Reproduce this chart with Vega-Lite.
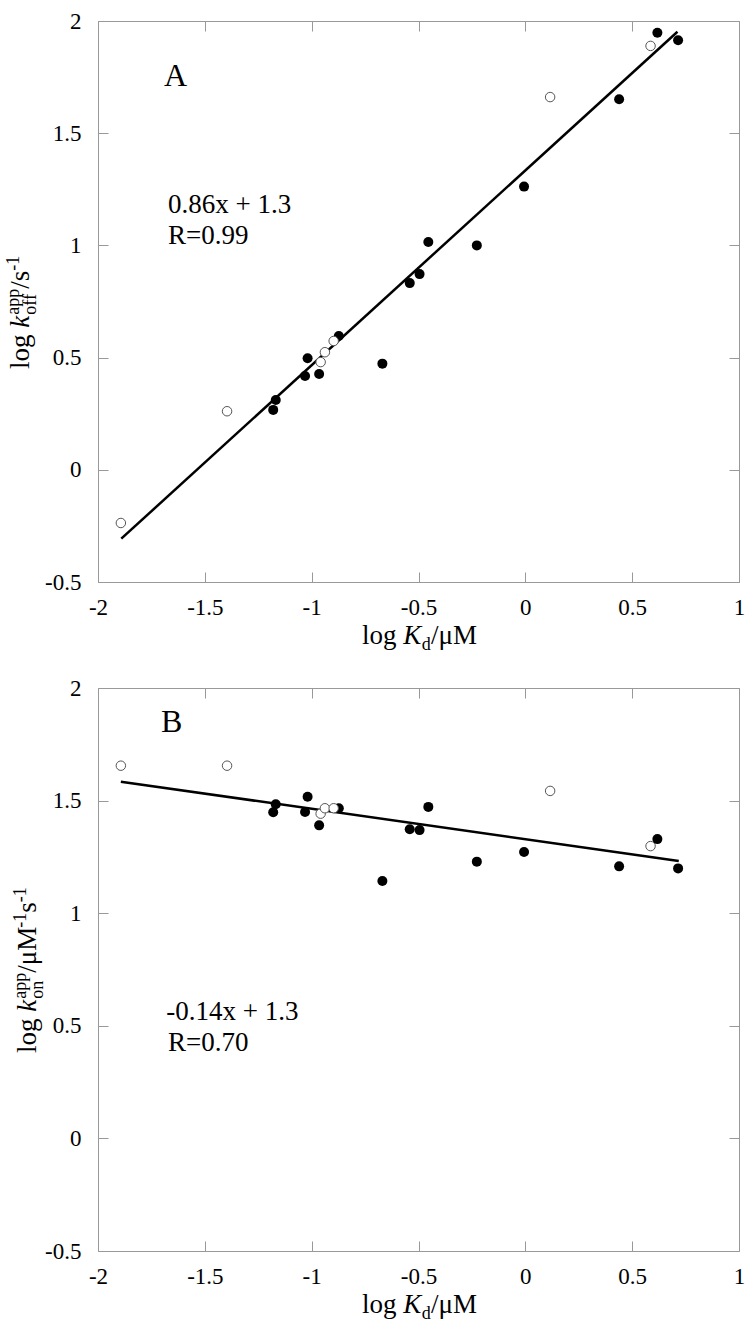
{
  "$schema": "https://vega.github.io/schema/vega-lite/v6.json",
  "background": "white",
  "padding": {"left": 4, "top": 9, "right": 5, "bottom": 0},
  "autosize": {"type": "pad"},
  "config": {
    "font": "Liberation Serif",
    "view": {"stroke": "#999999", "strokeWidth": 1},
    "axis": {"grid": false, "domain": false, "labelFlush": false, "labelOverlap": false, "tickColor": "#999999", "tickWidth": 1, "labelFont": "Liberation Serif", "labelFontSize": 23, "labelColor": "black"}
  },
  "datasets": {
    "pts": [
      {"logKd": -1.893, "logKoff": -0.237, "logKon": 1.655, "marker": "open"},
      {"logKd": -1.396, "logKoff": 0.261, "logKon": 1.655, "marker": "open"},
      {"logKd": -0.958, "logKoff": 0.48, "logKon": 1.442, "marker": "open"},
      {"logKd": -0.938, "logKoff": 0.524, "logKon": 1.466, "marker": "open"},
      {"logKd": -0.897, "logKoff": 0.574, "logKon": 1.466, "marker": "open"},
      {"logKd": 0.116, "logKoff": 1.661, "logKon": 1.543, "marker": "open"},
      {"logKd": 0.586, "logKoff": 1.889, "logKon": 1.298, "marker": "open"},
      {"logKd": -1.18, "logKoff": 0.267, "logKon": 1.448, "marker": "filled"},
      {"logKd": -1.168, "logKoff": 0.311, "logKon": 1.484, "marker": "filled"},
      {"logKd": -1.031, "logKoff": 0.418, "logKon": 1.449, "marker": "filled"},
      {"logKd": -1.019, "logKoff": 0.497, "logKon": 1.517, "marker": "filled"},
      {"logKd": -0.965, "logKoff": 0.427, "logKon": 1.39, "marker": "filled"},
      {"logKd": -0.873, "logKoff": 0.596, "logKon": 1.466, "marker": "filled"},
      {"logKd": -0.669, "logKoff": 0.473, "logKon": 1.143, "marker": "filled"},
      {"logKd": -0.541, "logKoff": 0.832, "logKon": 1.373, "marker": "filled"},
      {"logKd": -0.495, "logKoff": 0.872, "logKon": 1.369, "marker": "filled"},
      {"logKd": -0.454, "logKoff": 1.015, "logKon": 1.472, "marker": "filled"},
      {"logKd": -0.227, "logKoff": 1.0, "logKon": 1.229, "marker": "filled"},
      {"logKd": -0.006, "logKoff": 1.262, "logKon": 1.272, "marker": "filled"},
      {"logKd": 0.439, "logKoff": 1.651, "logKon": 1.208, "marker": "filled"},
      {"logKd": 0.618, "logKoff": 1.948, "logKon": 1.329, "marker": "filled"},
      {"logKd": 0.715, "logKoff": 1.914, "logKon": 1.199, "marker": "filled"}
    ],
    "fitA": [{"logKd": -1.891, "fit": -0.307}, {"logKd": 0.712, "fit": 1.952}],
    "fitB": [{"logKd": -1.893, "fit": 1.584}, {"logKd": 0.718, "fit": 1.232}]
  },
  "concat": [
    {
      "width": 641,
      "height": 561,
      "layer": [
        {"data": {"name": "fitA"}, "mark": {"type": "line", "color": "black", "strokeWidth": 2.5},
         "encoding": {"x": {"field": "logKd", "type": "quantitative", "axis": null, "scale": {"domain": [-2, 1], "nice": false, "zero": false}},
                      "y": {"field": "fit", "type": "quantitative", "axis": null, "scale": {"domain": [-0.5, 2], "nice": false, "zero": false}}}},
        {"data": {"name": "pts"}, "transform": [{"filter": "datum.marker === 'filled'"}],
         "mark": {"type": "circle", "color": "black", "opacity": 1, "size": 100},
         "encoding": {"x": {"field": "logKd", "type": "quantitative", "axis": {"orient": "bottom", "values": [-2, -1.5, -1, -0.5, 0, 0.5, 1], "title": null, "tickSize": -10, "labelPadding": 24, "labelFont": "Liberation Serif", "labelFontSize": 23, "labelColor": "black", "labelExpr": "'' + datum.value"}},
                      "y": {"field": "logKoff", "type": "quantitative", "axis": {"orient": "left", "values": [-0.5, 0, 0.5, 1, 1.5, 2], "title": null, "tickSize": -10, "labelPadding": 27, "labelFont": "Liberation Serif", "labelFontSize": 23, "labelColor": "black", "labelExpr": "'' + datum.value"}}}},
        {"data": {"name": "pts"}, "transform": [{"filter": "datum.marker === 'open'"}],
         "mark": {"type": "point", "shape": "circle", "filled": false, "fill": "white", "fillOpacity": 1, "stroke": "#555555", "strokeWidth": 1, "opacity": 1, "size": 90},
         "encoding": {"x": {"field": "logKd", "type": "quantitative", "axis": {"orient": "top", "values": [-2, -1.5, -1, -0.5, 0, 0.5, 1], "title": null, "labels": false, "tickSize": -10}},
                      "y": {"field": "logKoff", "type": "quantitative", "axis": {"orient": "right", "values": [-0.5, 0, 0.5, 1, 1.5, 2], "title": null, "labels": false, "tickSize": -10}}}},
        {"data": {"values": [{}]}, "mark": {"type": "text", "text": "A", "fontSize": 32, "align": "left", "baseline": "alphabetic", "color": "black"},
         "encoding": {"x": {"datum": -1.691, "type": "quantitative", "axis": null}, "y": {"datum": 1.71, "type": "quantitative", "axis": null}}},
        {"data": {"values": [{}]}, "mark": {"type": "text", "text": "0.86x + 1.3", "fontSize": 27, "align": "left", "baseline": "alphabetic", "color": "black"},
         "encoding": {"x": {"datum": -1.672, "type": "quantitative", "axis": null}, "y": {"datum": 1.146, "type": "quantitative", "axis": null}}},
        {"data": {"values": [{}]}, "mark": {"type": "text", "text": "R=0.99", "fontSize": 27, "align": "left", "baseline": "alphabetic", "color": "black"},
         "encoding": {"x": {"datum": -1.672, "type": "quantitative", "axis": null}, "y": {"datum": 1.006, "type": "quantitative", "axis": null}}},
        {"data": {"values": [{}]}, "mark": {"type": "text", "text": "log ", "fontSize": 27, "align": "left", "baseline": "alphabetic", "dx": -56.6, "dy": 62, "color": "black"},
         "encoding": {"x": {"datum": -0.5, "type": "quantitative", "axis": null}, "y": {"datum": -0.5, "type": "quantitative", "axis": null}}},
        {"data": {"values": [{}]}, "mark": {"type": "text", "text": "K", "fontSize": 27, "fontStyle": "italic", "align": "left", "baseline": "alphabetic", "dx": -15.3, "dy": 62, "color": "black"},
         "encoding": {"x": {"datum": -0.5, "type": "quantitative", "axis": null}, "y": {"datum": -0.5, "type": "quantitative", "axis": null}}},
        {"data": {"values": [{}]}, "mark": {"type": "text", "text": "d", "fontSize": 18, "align": "left", "baseline": "alphabetic", "dx": 3.2, "dy": 68, "color": "black"},
         "encoding": {"x": {"datum": -0.5, "type": "quantitative", "axis": null}, "y": {"datum": -0.5, "type": "quantitative", "axis": null}}},
        {"data": {"values": [{}]}, "mark": {"type": "text", "text": "/μM", "fontSize": 27, "align": "left", "baseline": "alphabetic", "dx": 12.5, "dy": 62, "color": "black"},
         "encoding": {"x": {"datum": -0.5, "type": "quantitative", "axis": null}, "y": {"datum": -0.5, "type": "quantitative", "axis": null}}},
        {"data": {"values": [{}]}, "mark": {"type": "text", "text": "log ", "fontSize": 27, "angle": 270, "align": "left", "baseline": "alphabetic", "dx": -67.5, "dy": -69, "color": "black"},
         "encoding": {"x": {"datum": -2, "type": "quantitative", "axis": null}, "y": {"datum": 0.75, "type": "quantitative", "axis": null}}},
        {"data": {"values": [{}]}, "mark": {"type": "text", "text": "k", "fontSize": 27, "fontStyle": "italic", "angle": 270, "align": "left", "baseline": "alphabetic", "dx": -26.2, "dy": -69, "color": "black"},
         "encoding": {"x": {"datum": -2, "type": "quantitative", "axis": null}, "y": {"datum": 0.75, "type": "quantitative", "axis": null}}},
        {"data": {"values": [{}]}, "mark": {"type": "text", "text": "app", "fontSize": 18, "angle": 270, "align": "left", "baseline": "alphabetic", "dx": -13.2, "dy": -79, "color": "black"},
         "encoding": {"x": {"datum": -2, "type": "quantitative", "axis": null}, "y": {"datum": 0.75, "type": "quantitative", "axis": null}}},
        {"data": {"values": [{}]}, "mark": {"type": "text", "text": "off", "fontSize": 18, "angle": 270, "align": "left", "baseline": "alphabetic", "dx": -13.2, "dy": -62.5, "color": "black"},
         "encoding": {"x": {"datum": -2, "type": "quantitative", "axis": null}, "y": {"datum": 0.75, "type": "quantitative", "axis": null}}},
        {"data": {"values": [{}]}, "mark": {"type": "text", "text": "/s", "fontSize": 27, "angle": 270, "align": "left", "baseline": "alphabetic", "dx": 12.8, "dy": -69, "color": "black"},
         "encoding": {"x": {"datum": -2, "type": "quantitative", "axis": null}, "y": {"datum": 0.75, "type": "quantitative", "axis": null}}},
        {"data": {"values": [{}]}, "mark": {"type": "text", "text": "-1", "fontSize": 18, "angle": 270, "align": "left", "baseline": "alphabetic", "dx": 30.8, "dy": -79, "color": "black"},
         "encoding": {"x": {"datum": -2, "type": "quantitative", "axis": null}, "y": {"datum": 0.75, "type": "quantitative", "axis": null}}}
      ],
      "resolve": {"axis": {"x": "independent", "y": "independent"}}
    },
    {
      "width": 641,
      "height": 563,
      "layer": [
        {"data": {"name": "fitB"}, "mark": {"type": "line", "color": "black", "strokeWidth": 2.5},
         "encoding": {"x": {"field": "logKd", "type": "quantitative", "axis": null, "scale": {"domain": [-2, 1], "nice": false, "zero": false}},
                      "y": {"field": "fit", "type": "quantitative", "axis": null, "scale": {"domain": [-0.5, 2], "nice": false, "zero": false}}}},
        {"data": {"name": "pts"}, "transform": [{"filter": "datum.marker === 'filled'"}],
         "mark": {"type": "circle", "color": "black", "opacity": 1, "size": 100},
         "encoding": {"x": {"field": "logKd", "type": "quantitative", "axis": {"orient": "bottom", "values": [-2, -1.5, -1, -0.5, 0, 0.5, 1], "title": null, "tickSize": -10, "labelPadding": 24, "labelFont": "Liberation Serif", "labelFontSize": 23, "labelColor": "black", "labelExpr": "'' + datum.value"}},
                      "y": {"field": "logKon", "type": "quantitative", "axis": {"orient": "left", "values": [-0.5, 0, 0.5, 1, 1.5, 2], "title": null, "tickSize": -10, "labelPadding": 27, "labelFont": "Liberation Serif", "labelFontSize": 23, "labelColor": "black", "labelExpr": "'' + datum.value"}}}},
        {"data": {"name": "pts"}, "transform": [{"filter": "datum.marker === 'open'"}],
         "mark": {"type": "point", "shape": "circle", "filled": false, "fill": "white", "fillOpacity": 1, "stroke": "#555555", "strokeWidth": 1, "opacity": 1, "size": 90},
         "encoding": {"x": {"field": "logKd", "type": "quantitative", "axis": {"orient": "top", "values": [-2, -1.5, -1, -0.5, 0, 0.5, 1], "title": null, "labels": false, "tickSize": -10}},
                      "y": {"field": "logKon", "type": "quantitative", "axis": {"orient": "right", "values": [-0.5, 0, 0.5, 1, 1.5, 2], "title": null, "labels": false, "tickSize": -10}}}},
        {"data": {"values": [{}]}, "mark": {"type": "text", "text": "B", "fontSize": 32, "align": "left", "baseline": "alphabetic", "color": "black"},
         "encoding": {"x": {"datum": -1.705, "type": "quantitative", "axis": null}, "y": {"datum": 1.806, "type": "quantitative", "axis": null}}},
        {"data": {"values": [{}]}, "mark": {"type": "text", "text": "-0.14x + 1.3", "fontSize": 27, "align": "left", "baseline": "alphabetic", "color": "black"},
         "encoding": {"x": {"datum": -1.68, "type": "quantitative", "axis": null}, "y": {"datum": 0.526, "type": "quantitative", "axis": null}}},
        {"data": {"values": [{}]}, "mark": {"type": "text", "text": "R=0.70", "fontSize": 27, "align": "left", "baseline": "alphabetic", "color": "black"},
         "encoding": {"x": {"datum": -1.672, "type": "quantitative", "axis": null}, "y": {"datum": 0.388, "type": "quantitative", "axis": null}}},
        {"data": {"values": [{}]}, "mark": {"type": "text", "text": "log ", "fontSize": 27, "align": "left", "baseline": "alphabetic", "dx": -56.6, "dy": 62, "color": "black"},
         "encoding": {"x": {"datum": -0.5, "type": "quantitative", "axis": null}, "y": {"datum": -0.5, "type": "quantitative", "axis": null}}},
        {"data": {"values": [{}]}, "mark": {"type": "text", "text": "K", "fontSize": 27, "fontStyle": "italic", "align": "left", "baseline": "alphabetic", "dx": -15.3, "dy": 62, "color": "black"},
         "encoding": {"x": {"datum": -0.5, "type": "quantitative", "axis": null}, "y": {"datum": -0.5, "type": "quantitative", "axis": null}}},
        {"data": {"values": [{}]}, "mark": {"type": "text", "text": "d", "fontSize": 18, "align": "left", "baseline": "alphabetic", "dx": 3.2, "dy": 68, "color": "black"},
         "encoding": {"x": {"datum": -0.5, "type": "quantitative", "axis": null}, "y": {"datum": -0.5, "type": "quantitative", "axis": null}}},
        {"data": {"values": [{}]}, "mark": {"type": "text", "text": "/μM", "fontSize": 27, "align": "left", "baseline": "alphabetic", "dx": 12.5, "dy": 62, "color": "black"},
         "encoding": {"x": {"datum": -0.5, "type": "quantitative", "axis": null}, "y": {"datum": -0.5, "type": "quantitative", "axis": null}}},
        {"data": {"values": [{}]}, "mark": {"type": "text", "text": "log ", "fontSize": 27, "angle": 270, "align": "left", "baseline": "alphabetic", "dx": -83.5, "dy": -62, "color": "black"},
         "encoding": {"x": {"datum": -2, "type": "quantitative", "axis": null}, "y": {"datum": 0.75, "type": "quantitative", "axis": null}}},
        {"data": {"values": [{}]}, "mark": {"type": "text", "text": "k", "fontSize": 27, "fontStyle": "italic", "angle": 270, "align": "left", "baseline": "alphabetic", "dx": -42.2, "dy": -62, "color": "black"},
         "encoding": {"x": {"datum": -2, "type": "quantitative", "axis": null}, "y": {"datum": 0.75, "type": "quantitative", "axis": null}}},
        {"data": {"values": [{}]}, "mark": {"type": "text", "text": "app", "fontSize": 18, "angle": 270, "align": "left", "baseline": "alphabetic", "dx": -29.2, "dy": -72, "color": "black"},
         "encoding": {"x": {"datum": -2, "type": "quantitative", "axis": null}, "y": {"datum": 0.75, "type": "quantitative", "axis": null}}},
        {"data": {"values": [{}]}, "mark": {"type": "text", "text": "on", "fontSize": 18, "angle": 270, "align": "left", "baseline": "alphabetic", "dx": -29.2, "dy": -55.5, "color": "black"},
         "encoding": {"x": {"datum": -2, "type": "quantitative", "axis": null}, "y": {"datum": 0.75, "type": "quantitative", "axis": null}}},
        {"data": {"values": [{}]}, "mark": {"type": "text", "text": "/μM", "fontSize": 27, "angle": 270, "align": "left", "baseline": "alphabetic", "dx": -3.2, "dy": -62, "color": "black"},
         "encoding": {"x": {"datum": -2, "type": "quantitative", "axis": null}, "y": {"datum": 0.75, "type": "quantitative", "axis": null}}},
        {"data": {"values": [{}]}, "mark": {"type": "text", "text": "-1", "fontSize": 18, "angle": 270, "align": "left", "baseline": "alphabetic", "dx": 41.8, "dy": -72, "color": "black"},
         "encoding": {"x": {"datum": -2, "type": "quantitative", "axis": null}, "y": {"datum": 0.75, "type": "quantitative", "axis": null}}},
        {"data": {"values": [{}]}, "mark": {"type": "text", "text": "s", "fontSize": 27, "angle": 270, "align": "left", "baseline": "alphabetic", "dx": 56.8, "dy": -62, "color": "black"},
         "encoding": {"x": {"datum": -2, "type": "quantitative", "axis": null}, "y": {"datum": 0.75, "type": "quantitative", "axis": null}}},
        {"data": {"values": [{}]}, "mark": {"type": "text", "text": "-1", "fontSize": 18, "angle": 270, "align": "left", "baseline": "alphabetic", "dx": 67.3, "dy": -72, "color": "black"},
         "encoding": {"x": {"datum": -2, "type": "quantitative", "axis": null}, "y": {"datum": 0.75, "type": "quantitative", "axis": null}}}
      ],
      "resolve": {"axis": {"x": "independent", "y": "independent"}}
    }
  ],
  "columns": 1,
  "align": "all",
  "spacing": 19
}
